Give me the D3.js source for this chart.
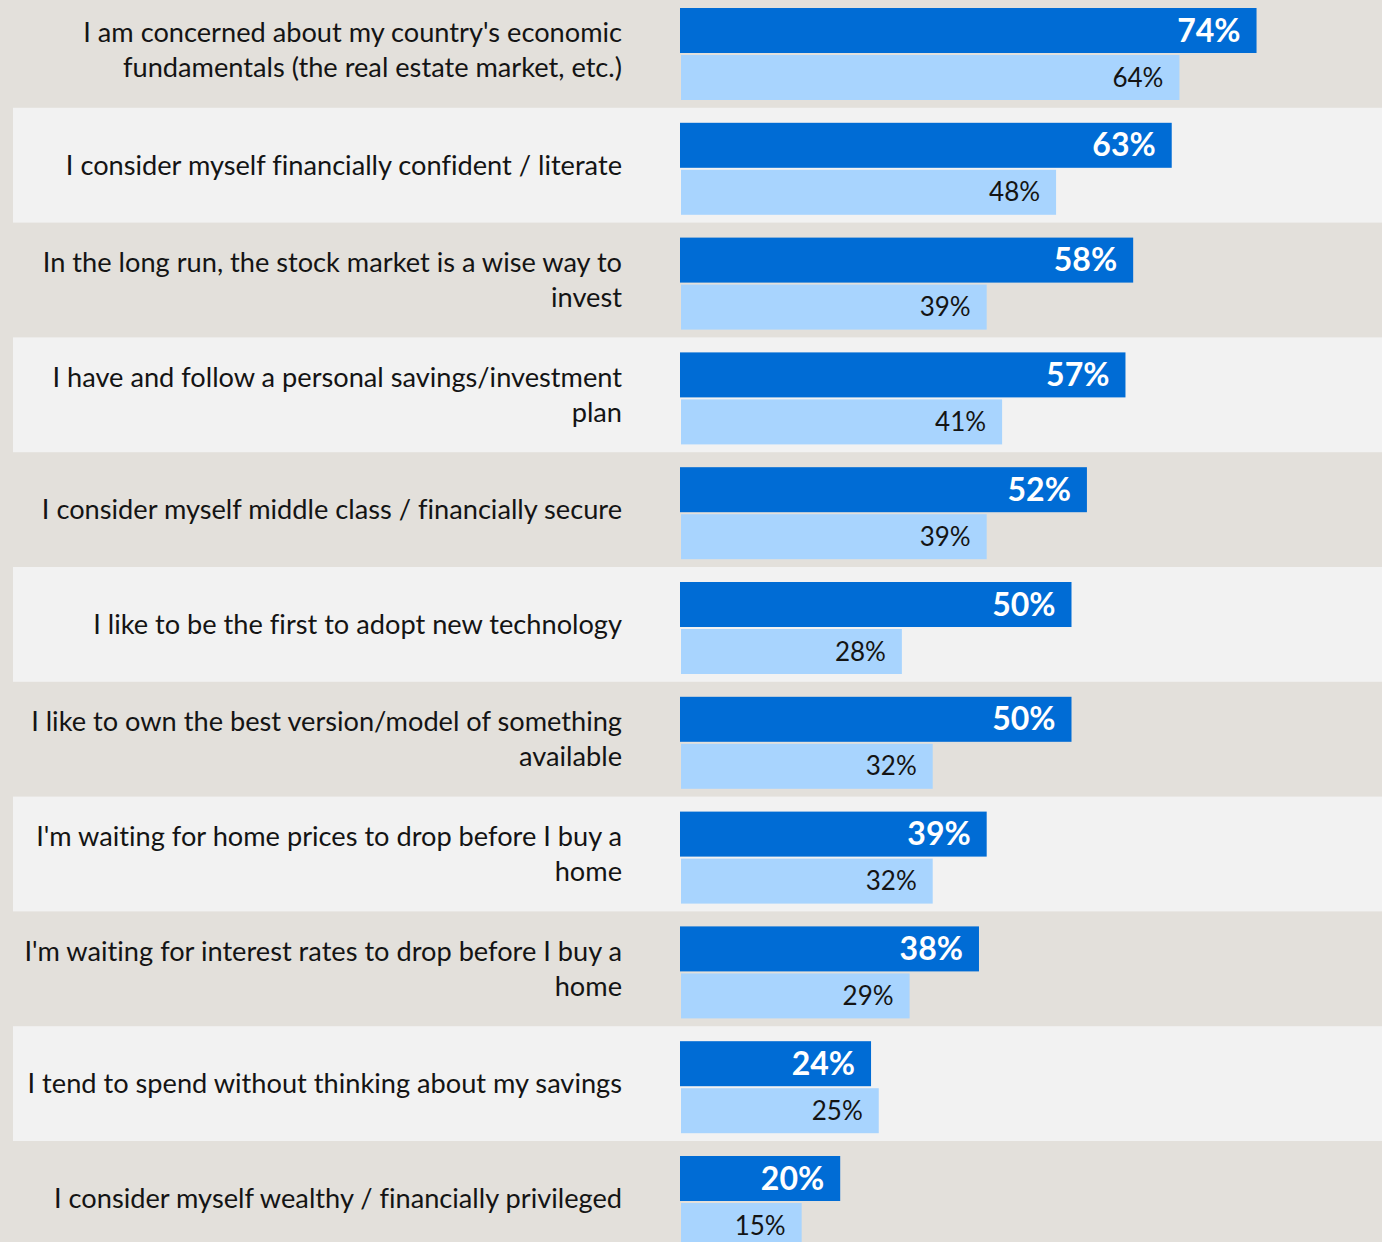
<!DOCTYPE html>
<html>
<head>
<meta charset="utf-8">
<script src="https://cdn.jsdelivr.net/npm/d3@7"></script>
<style>
  html, body { margin: 0; padding: 0; background: #e3e0db; }
  svg { display: block; }
  text { font-variant-ligatures: none; }
</style>
</head>
<body>
<div id="main"></div>
<script>
// statements, top to bottom
var statements = [
  ["I am concerned about my country's economic", "fundamentals (the real estate market, etc.)"],
  ["I consider myself financially confident / literate"],
  ["In the long run, the stock market is a wise way to", "invest"],
  ["I have and follow a personal savings/investment", "plan"],
  ["I consider myself middle class / financially secure"],
  ["I like to be the first to adopt new technology"],
  ["I like to own the best version/model of something", "available"],
  ["I'm waiting for home prices to drop before I buy a", "home"],
  ["I'm waiting for interest rates to drop before I buy a", "home"],
  ["I tend to spend without thinking about my savings"],
  ["I consider myself wealthy / financially privileged"]
];
var darkValues = [74, 63, 58, 57, 52, 50, 50, 39, 38, 24, 20];
var lightValues = [64, 48, 39, 41, 39, 28, 32, 32, 29, 25, 15];

var width = 1382, height = 1242;
var svg = d3.select("#main").append("svg")
  .attr("width", width).attr("height", height);

var rowTop = -7, rowH = 114.8;
var barStart = 681;
var x = d3.scaleLinear().domain([0, 100]).range([686, 1457]);
var y = d3.scaleLinear().domain([0, 1]).range([rowTop, rowTop + rowH]);

svg.append("rect")
  .attr("width", width).attr("height", height)
  .style("fill", "#e3e0db");

var rows = svg.selectAll(".row")
  .data(statements)
  .enter().append("g")
  .attr("class", "row")
  .attr("transform", function (d, i) { return "translate(0," + y(i) + ")"; });

rows.append("rect")
  .attr("x", 13)
  .attr("width", width - 13)
  .attr("height", rowH)
  .style("fill", function (d, i) { return i % 2 ? "#f2f2f2" : "none"; });

rows.append("text")
  .attr("text-anchor", "end")
  .style("font-family", "Lato, sans-serif")
  .style("font-size", "27.2px")
  .style("fill", "#141414")
  .each(function (d) {
    var t = d3.select(this);
    var start = rowH / 2 - (d.length - 1) * 17.5;
    d.forEach(function (line, k) {
      t.append("tspan")
        .attr("x", 622)
        .attr("y", start + k * 35)
        .attr("dy", "0.35em")
        .text(line);
    });
  });

// dark bars
rows.append("rect")
  .attr("x", barStart - 1)
  .attr("y", 15)
  .attr("height", 45)
  .attr("width", function (d, i) { return x(darkValues[i]) - barStart + 1; })
  .style("fill", "#006cd5");

rows.append("text")
  .attr("x", function (d, i) { return x(darkValues[i]) - 16; })
  .attr("y", 37.5)
  .attr("dy", "0.35em")
  .attr("text-anchor", "end")
  .style("font-family", "Lato, sans-serif")
  .style("font-weight", "bold")
  .style("font-size", "32px")
  .style("fill", "#ffffff")
  .text(function (d, i) { return darkValues[i] + "%"; });

// light bars
rows.append("rect")
  .attr("x", barStart)
  .attr("y", 62)
  .attr("height", 45)
  .attr("width", function (d, i) { return x(lightValues[i]) - barStart; })
  .style("fill", "#a8d4fe");

rows.append("text")
  .attr("x", function (d, i) { return x(lightValues[i]) - 16; })
  .attr("y", 84.5)
  .attr("dy", "0.35em")
  .attr("text-anchor", "end")
  .style("font-family", "Lato, sans-serif")
  .style("font-size", "26px")
  .style("fill", "#141414")
  .text(function (d, i) { return lightValues[i] + "%"; });
</script>
</body>
</html>
